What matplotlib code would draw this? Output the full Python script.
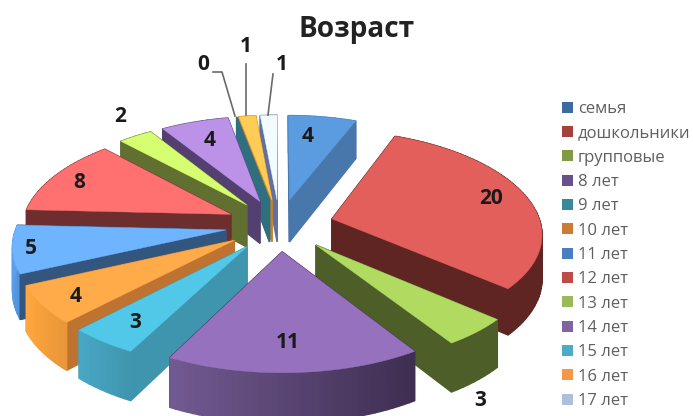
import numpy as np
import matplotlib
matplotlib.use("Agg")
import matplotlib.pyplot as plt
from matplotlib.patches import Patch
from matplotlib.colors import to_rgb

plt.rcParams['font.family'] = ['Open Sans', 'DejaVu Sans']

categories = ['семья', 'дошкольники', 'групповые', '8 лет', '9 лет', '10 лет', '11 лет',
              '12 лет', '13 лет', '14 лет', '15 лет', '16 лет', '17 лет']
values = [4, 20, 3, 11, 3, 4, 5, 8, 2, 4, 0, 1, 1]
title = 'Возраст'

top_colors = ['#5B9BE0', '#E35F5C', '#B0DB60', '#9672BE', '#52C8E8', '#FFAB4A', '#6EB4FF',
              '#FF7070', '#D5FF70', '#BB92E8', '#2F7080', '#FFCC55', '#F2FBFF']
radial_colors = ['#4877AB', '#5F2522', '#4E5E29', '#43315A', '#3F95AD', '#BE7430', '#33567F',
                 '#6F2E2E', '#616F30', '#534070', '#2F7080', '#C88030', '#6070A0']
arc_light_end = ['#4877AB', '#5F2522', '#4E5E29', '#725A92', '#48A8C5', '#FFA63F', '#5BA0EE',
                 '#6F2E2E', '#616F30', '#534070', '#2F7080', '#C88030', '#6070A0']
arc_dark_end = ['#4877AB', '#5F2522', '#4E5E29', '#3E2D50', '#3F95AD', '#E89638', '#4E90D8',
                '#6F2E2E', '#616F30', '#534070', '#2F7080', '#C88030', '#6070A0']
legend_colors = ['#3E6B9E', '#A5403D', '#7F9B46', '#68508A', '#37899E', '#CC7B35', '#4A7EC0',
                 '#BF4A48', '#9ABB59', '#8064A2', '#4BACC6', '#F79646', '#AEBEDD']

# text placement
label_xy = [(308, 137), (491, 198), (480, 400), (288, 343), (135, 322), (76, 297), (31, 249),
            (79, 182), (120, 117), (210, 140), (203, 65), (246, 47), (282, 65)]
leaders = {10: [(213, 72), (222, 72), (235, 116)],
           11: [(246, 64), (246, 115)],
           12: [(273, 74), (268, 115)]}

# projection of the tilted, exploded pie
cx, cy = 279.5, 225.0
rx, ry = 209.0, 100.0
kx, ky = 0.131, 0.117
explode = 0.26
depth = 43.0


def project(X, Y, z=0.0):
    X, Y = np.asarray(X, float), np.asarray(Y, float)
    wx, wy = 1 + kx * Y, 1 + ky * Y
    return cx + rx * X / wx, cy - ry * Y / wy + z * depth / wy


def mix(a, b, t):
    a, b = np.array(to_rgb(a)), np.array(to_rgb(b))
    return tuple(a + (b - a) * t)


fig = plt.figure(figsize=(6.93, 4.16), dpi=100)
ax = fig.add_axes([0, 0, 1, 1])
ax.set_xlim(0, 693)
ax.set_ylim(416, 0)
ax.axis('off')


def quad(X0, Y0, X1, Y1, color, zorder):
    x0, y0 = project(X0, Y0)
    x1, y1 = project(X1, Y1)
    x2, y2 = project(X1, Y1, 1)
    x3, y3 = project(X0, Y0, 1)
    ax.fill([x0, x1, x2, x3], [y0, y1, y2, y3], color=color, lw=1.0, zorder=zorder)


total = sum(values)
edges = np.concatenate([[0], np.cumsum(values)]) / total * 2 * np.pi
mids = (edges[:-1] + edges[1:]) / 2
order = np.argsort(-np.cos(mids))

for rank, i in enumerate(order):
    a0, a1, m = edges[i], edges[i + 1], mids[i]
    ox, oy = explode * np.sin(m), explode * np.cos(m)
    z = 10 + rank
    n = max(2, int(np.degrees(a1 - a0) / 1.5))
    th = np.linspace(a0, a1, n)
    X, Y = ox + np.sin(th), oy + np.cos(th)
    # walls, back to front
    faces = [((Y[0] + oy) / 2, 'r0'), ((Y[-1] + oy) / 2, 'r1'), (Y.mean(), 'arc')]
    for _, kind in sorted(faces, key=lambda f: -f[0]):
        if kind == 'r0':
            quad(ox, oy, X[0], Y[0], radial_colors[i], z)
        elif kind == 'r1':
            quad(ox, oy, X[-1], Y[-1], radial_colors[i], z)
        elif values[i] > 0:
            xmin, xmax = X.min(), X.max()
            for j in range(n - 1):
                t = ((X[j] + X[j + 1]) / 2 - xmin) / max(xmax - xmin, 1e-6)
                quad(X[j], Y[j], X[j + 1], Y[j + 1], mix(arc_light_end[i], arc_dark_end[i], t), z)
    if values[i] > 0:
        px, py = project(np.r_[ox, X], np.r_[oy, Y])
        ax.fill(px, py, color=top_colors[i], lw=0.3, zorder=z + 0.5)

for i, (lx, ly) in enumerate(label_xy):
    ax.text(lx, ly, str(values[i]), ha='center', va='center', fontsize=15,
            fontweight='bold', color='#1a1a1a', zorder=50)
for pts in leaders.values():
    ax.plot(*zip(*pts), color='#6a6a6a', lw=1.2, zorder=49)

ax.text(357, 29, title, ha='center', va='center', fontsize=20.2, fontweight='bold',
        color='#222222', zorder=50)

handles = [Patch(facecolor=c, edgecolor='none') for c in legend_colors]
ax.legend(handles, categories, loc='upper left', bbox_to_anchor=(562, 101),
          bbox_transform=ax.transData, frameon=False, fontsize=12, handlelength=0.66,
          handleheight=0.66, handletextpad=0.28, labelspacing=0.5, labelcolor='#5f5f5f',
          borderpad=0, borderaxespad=0)

fig.savefig('out.png', dpi=100)
